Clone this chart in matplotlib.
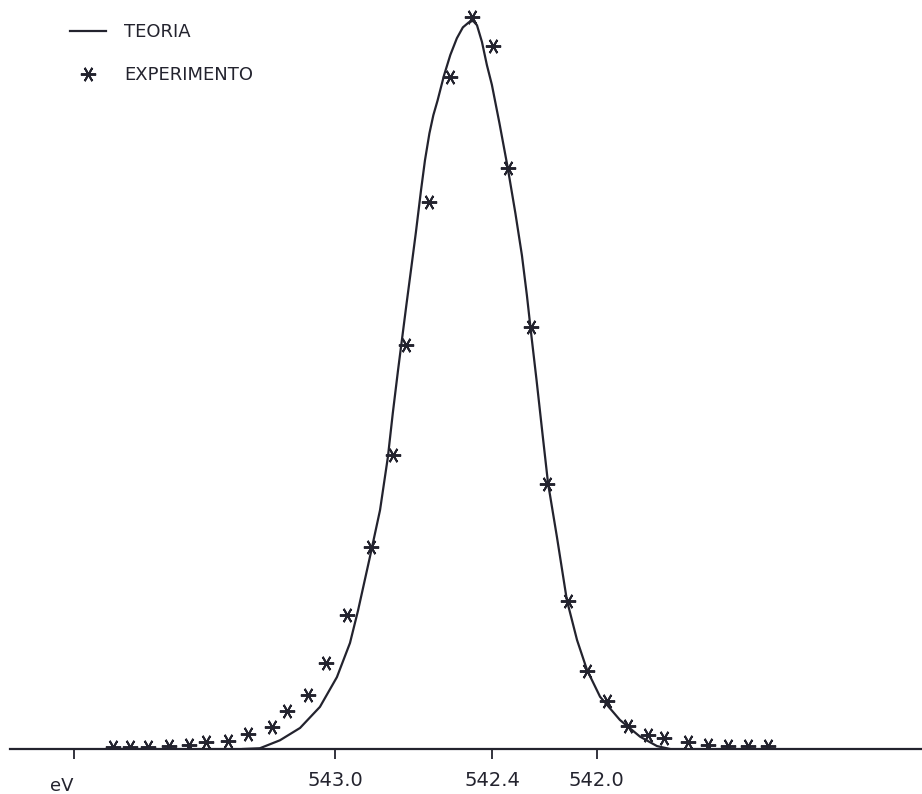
import numpy as np
import matplotlib.pyplot as plt

# energia (eV) e intensidade normalizada
ev_exp = [543.851, 543.786, 543.717, 543.637, 543.560, 543.495, 543.411, 543.334,
          543.243, 543.185, 543.105, 543.036, 542.956, 542.864, 542.780, 542.730,
          542.642, 542.561, 542.477, 542.397, 542.339, 542.251, 542.190, 542.110,
          542.037, 541.961, 541.880, 541.804, 541.742, 541.651, 541.574, 541.497,
          541.421, 541.344]
i_exp = [0.003, 0.003, 0.003, 0.004, 0.006, 0.010, 0.011, 0.021,
         0.030, 0.052, 0.074, 0.118, 0.185, 0.278, 0.405, 0.556,
         0.753, 0.926, 1.008, 0.968, 0.800, 0.581, 0.365, 0.204,
         0.107, 0.066, 0.032, 0.019, 0.015, 0.010, 0.006, 0.004,
         0.004, 0.004]

ev_teo = [543.354, 543.289, 543.212, 543.135, 543.059, 542.994, 542.944, 542.913,
          542.868, 542.829, 542.799, 542.780, 542.760, 542.728, 542.709, 542.692,
          542.672, 542.657, 542.640, 542.625, 542.609, 542.584, 542.560, 542.535,
          542.512, 542.489, 542.473, 542.458, 542.439, 542.420, 542.401, 542.372,
          542.341, 542.311, 542.286, 542.267, 542.250, 542.230, 542.206, 542.186,
          542.152, 542.114, 542.075, 542.037, 541.987, 541.911, 541.834, 541.769,
          541.719]
i_teo = [0.000, 0.001, 0.012, 0.029, 0.058, 0.099, 0.146, 0.191,
         0.264, 0.329, 0.402, 0.463, 0.522, 0.612, 0.664, 0.711,
         0.770, 0.811, 0.848, 0.873, 0.893, 0.928, 0.956, 0.979,
         0.994, 1.001, 1.003, 0.997, 0.974, 0.942, 0.915, 0.862,
         0.802, 0.738, 0.680, 0.625, 0.570, 0.508, 0.430, 0.366,
         0.292, 0.205, 0.150, 0.109, 0.072, 0.040, 0.017, 0.004,
         0.000]

ticks = [544.0, 543.0, 542.4, 542.0]
tick_labels = ['', '543.0', '542.4', '542.0']

cor = '#23232e'

fig = plt.figure(figsize=(9.22, 7.94), dpi=100)
ax = fig.add_axes([10 / 922, 45 / 794, 912 / 922, 749 / 794])

ax.plot(ev_teo, i_teo, color=cor, lw=1.6, label='TEORIA')
ax.plot(ev_exp, i_exp, ls='none', marker=(6, 2, 90), ms=11, mew=1.4,
        color=cor, label='EXPERIMENTO')

ax.set_xlim(544.245, 540.755)
ax.set_ylim(0, 1.0317)

for s in ['top', 'left', 'right']:
    ax.spines[s].set_visible(False)
ax.spines['bottom'].set_linewidth(1.6)
ax.spines['bottom'].set_color(cor)
ax.set_yticks([])
ax.set_xticks(ticks)
ax.set_xticklabels(tick_labels)
ax.tick_params(axis='x', direction='out', length=7, width=1.3, color=cor,
               pad=9, labelsize=14, labelcolor=cor)
ax.text(544.046, -0.050, 'eV', transform=ax.get_xaxis_transform(),
        ha='center', va='center', fontsize=13, color=cor)

fig.legend(loc='upper left', bbox_to_anchor=(70 / 922, 1 - 23 / 794),
           frameon=False, fontsize=13, handlelength=2.0, handletextpad=1.0,
           labelspacing=1.4, borderpad=0, borderaxespad=0, numpoints=1,
           labelcolor=cor)

plt.savefig('out.png', dpi=100)
